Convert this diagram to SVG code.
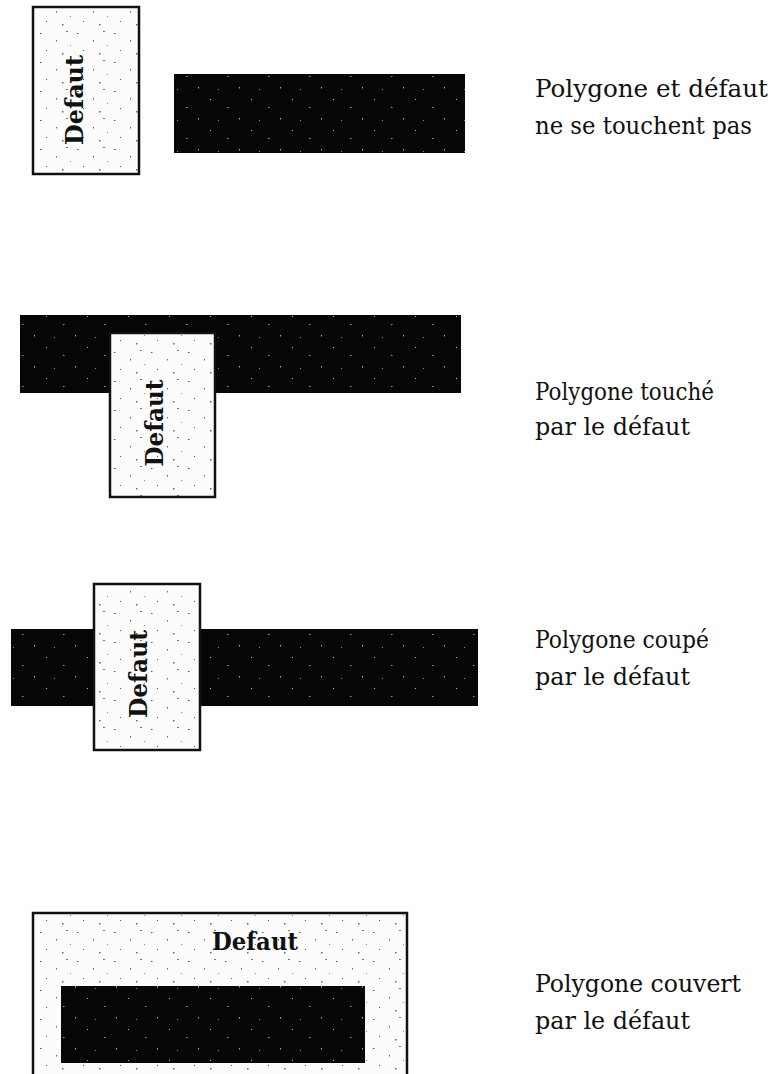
<svg xmlns="http://www.w3.org/2000/svg" width="778" height="1074" viewBox="0 0 778 1074">
<defs>
<pattern id="speckW" width="37" height="29" patternUnits="userSpaceOnUse">
<rect width="37" height="29" fill="#fcfcfc"/>
<rect x="3" y="4" width="1.5" height="1" fill="#555"/>
<rect x="19" y="11" width="1" height="1.5" fill="#666"/>
<rect x="29" y="2" width="2" height="1" fill="#777"/>
<rect x="9" y="21" width="1" height="1" fill="#555"/>
<rect x="25" y="24" width="1.5" height="1.5" fill="#666"/>
<rect x="33" y="16" width="1" height="1" fill="#888"/>
</pattern>
<pattern id="speckB" width="41" height="31" patternUnits="userSpaceOnUse">
<rect width="41" height="31" fill="#060606"/>
<rect x="5" y="6" width="1" height="1" fill="#bbb"/>
<rect x="22" y="14" width="1.5" height="1" fill="#999"/>
<rect x="34" y="25" width="1" height="1.5" fill="#aaa"/>
<rect x="13" y="27" width="1" height="1" fill="#888"/>
</pattern>
</defs>
<style>
.poly{fill:url(#speckB);stroke:none}
.def{fill:url(#speckW);stroke:#111;stroke-width:2.5}
.dt{font-family:"DejaVu Serif","Liberation Serif",serif;font-weight:bold;font-size:24px;fill:#111;text-anchor:middle}
.lab{font-family:"DejaVu Serif","Liberation Serif",serif;font-size:24px;fill:#111}
</style>
<rect width="778" height="1074" fill="#ffffff"/>
<g id="case1">
<rect class="def" x="33" y="7" width="106" height="167"/>
<text class="dt" transform="translate(83,100) rotate(-90)" textLength="90" lengthAdjust="spacingAndGlyphs">Defaut</text>
<rect class="poly" x="174" y="74" width="291" height="79"/>
<text class="lab" x="535" y="97" textLength="233" lengthAdjust="spacingAndGlyphs">Polygone et défaut</text>
<text class="lab" x="535" y="134" textLength="217" lengthAdjust="spacingAndGlyphs">ne se touchent pas</text>
</g>
<g id="case2">
<rect class="poly" x="20" y="315" width="441" height="78"/>
<rect class="def" x="110" y="333" width="105" height="164"/>
<text class="dt" transform="translate(163,423) rotate(-90)" textLength="87" lengthAdjust="spacingAndGlyphs">Defaut</text>
<text class="lab" x="535" y="400" textLength="179" lengthAdjust="spacingAndGlyphs">Polygone touché</text>
<text class="lab" x="535" y="435" textLength="155" lengthAdjust="spacingAndGlyphs">par le défaut</text>
</g>
<g id="case3">
<rect class="poly" x="11" y="629" width="467" height="77"/>
<rect class="def" x="94" y="584" width="106" height="166"/>
<text class="dt" transform="translate(147,674) rotate(-90)" textLength="88" lengthAdjust="spacingAndGlyphs">Defaut</text>
<text class="lab" x="535" y="648" textLength="174" lengthAdjust="spacingAndGlyphs">Polygone coupé</text>
<text class="lab" x="535" y="685" textLength="155" lengthAdjust="spacingAndGlyphs">par le défaut</text>
</g>
<g id="case4">
<rect class="def" x="33" y="913" width="374" height="175"/>
<text class="dt" x="255" y="950" textLength="86" lengthAdjust="spacingAndGlyphs">Defaut</text>
<rect class="poly" x="61" y="986" width="304" height="77"/>
<text class="lab" x="535" y="992" textLength="206" lengthAdjust="spacingAndGlyphs">Polygone couvert</text>
<text class="lab" x="535" y="1029" textLength="155" lengthAdjust="spacingAndGlyphs">par le défaut</text>
</g>
<g id="connectors"/>
</svg>
